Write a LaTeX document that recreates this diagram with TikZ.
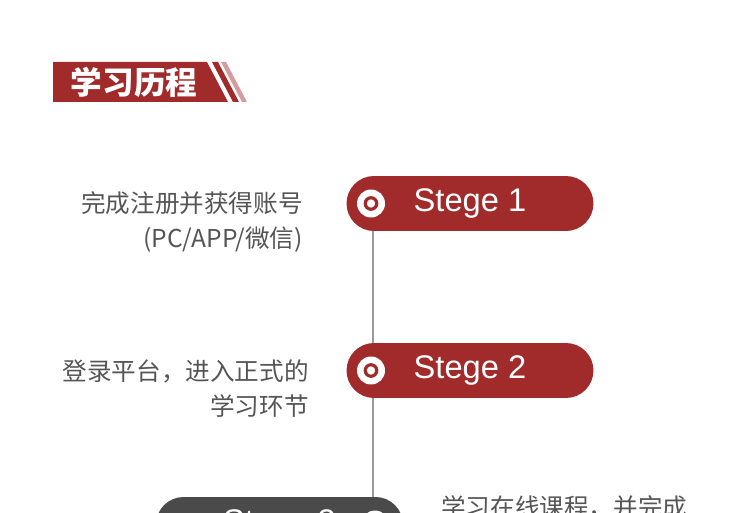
\documentclass[tikz,border=0pt]{standalone}
\usepackage{fontspec}
\setmainfont{Noto Sans CJK SC}
\newfontfamily\stagefont{Liberation Sans}
\usetikzlibrary{positioning, calc}
\definecolor{stagered}{HTML}{A12B2B}
\definecolor{stagepink}{HTML}{D49C9C}
\definecolor{stagegrey}{HTML}{4A4A4A}
\definecolor{spinegrey}{HTML}{9A9A9A}
\definecolor{notegrey}{HTML}{555555}
\tikzset{
    stage/.style={
        rectangle, rounded corners=0.55cm,
        fill=stagered, text=white,
        minimum width=4.94cm, minimum height=1.1cm,
        inner sep=0pt, font=\stagefont\fontsize{18.6}{20}\selectfont
    },
    stage dark/.style={stage, fill=stagegrey},
    ring/.style={
        circle, fill=white, minimum size=0.56cm, inner sep=0pt,
        path picture={\draw[#1, line width=1.8pt]
            (path picture bounding box.center) circle (0.115cm);}
    },
    note/.style={
        text=notegrey, align=right, inner sep=0pt,
        font=\fontsize{14}{20}\selectfont
    },
    spine/.style={draw=spinegrey, line width=1.2pt}
}

\begin{document}
\begin{tikzpicture}[x=0.02cm, y=-0.02cm]

    \useasboundingbox (0,0) rectangle (750,513);
    \clip (0,0) rectangle (750,513);

    % --- Title banner ---
    \fill[stagered] (53,62) -- (207,62) -- (228,102) -- (53,102) -- cycle;
    \fill[stagered] (212,62) -- (218,62) -- (239,102) -- (233,102) -- cycle;
    \fill[stagepink] (221,62) -- (226,62) -- (247,102) -- (242,102) -- cycle;
    \node[text=white, font=\fontsize{18}{20}\selectfont\bfseries] (title) at (134,82) {学习历程};

    % --- Stages ---
    \node[stage] (s1) at (470,203.5) {Stege 1};
    \node[stage] (s2) at (470,370.5) {Stege 2};
    \node[stage dark] (s3) at (279.5,524.5) {Stege 3};

    % --- Spine ---
    \coordinate (top) at (373,231);
    \draw[spine] (top) -- (top |- s2.north);
    \draw[spine] (top |- s2.south) -- (top |- s3.north);

    % --- Icons ---
    \node[ring=stagered] (dot1) at (371,203.5) {};
    \node[ring=stagered] (dot2) at (371,370.5) {};
    \node[ring=stagegrey] (dot3) at (375,524.5) {};

    % --- Notes ---
    \node[note, anchor=east] (n1) at (303,222) {完成注册并获得账号\\(PC/APP/微信)};
    \node[note, anchor=east] (n2) at (309,389) {登录平台，进入正式的\\学习环节};
    \node[note, anchor=west, align=left] (n3) at (441,525) {学习在线课程，并完成\\考试};

\end{tikzpicture}
\end{document}
